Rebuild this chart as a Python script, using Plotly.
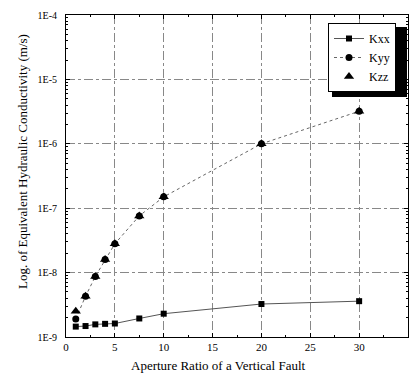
import plotly.graph_objects as go

aperture = [1, 2, 3, 4, 5, 7.5, 10, 20, 30]
kxx = [1.45e-9, 1.48e-9, 1.57e-9, 1.6e-9, 1.62e-9, 1.94e-9, 2.3e-9, 3.25e-9, 3.6e-9]
kyy = [1.9e-9, 4.3e-9, 8.7e-9, 1.6e-8, 2.8e-8, 7.6e-8, 1.5e-7, 1.0e-6, 3.2e-6]
kzz = [2.5e-9, 4.3e-9, 8.7e-9, 1.6e-8, 2.8e-8, 7.6e-8, 1.5e-7, 1.0e-6, 3.2e-6]
y_tickvals = [1e-9, 1e-8, 1e-7, 1e-6, 1e-5, 1e-4]
y_ticktext = ["1E-9", "1E-8", "1E-7", "1E-6", "1E-5", "1E-4"]
x_tickvals = [0, 5, 10, 15, 20, 25, 30]

minor_y = [k * 10.0 ** e for e in range(-9, -4) for k in range(2, 10)]

FONT = "Liberation Serif"
L, R, T, B = 66, 1, 15, 39
W, H = 409, 376
PW, PH = W - L - R, H - T - B


def px(x):
    return (x - L) / PW


def py(y):
    return 1 - (y - T) / PH


fig = go.Figure()
fig.add_trace(go.Scatter(x=aperture, y=kxx, name="Kxx", mode="lines+markers",
                         line=dict(color="#555", width=1),
                         marker=dict(symbol="square", size=6, color="black")))
fig.add_trace(go.Scatter(x=aperture, y=kyy, name="Kyy", mode="lines+markers",
                         line=dict(color="#666", width=1, dash="dot"),
                         marker=dict(symbol="circle", size=7, color="black")))
fig.add_trace(go.Scatter(x=aperture, y=kzz, name="Kzz", mode="markers",
                         marker=dict(symbol="triangle-up", size=9, color="black")))

# legend shadow
fig.add_shape(type="rect", xref="paper", yref="paper",
              x0=px(332), x1=px(407), y0=py(97), y1=py(27),
              fillcolor="black", line=dict(width=0), layer="above")

fig.add_annotation(text="Log. of Equivalent Hydraulic Conductivity (m/s)", textangle=-90,
                   xref="paper", yref="paper", x=px(22), y=py(162), showarrow=False,
                   xanchor="center", yanchor="middle",
                   font=dict(family=FONT, size=13))
fig.add_annotation(text="Aperture Ratio of a Vertical Fault",
                   xref="paper", yref="paper", x=px(218), y=py(366), showarrow=False,
                   xanchor="center", yanchor="middle",
                   font=dict(family=FONT, size=13))

fig.update_layout(
    width=W, height=H,
    margin=dict(l=L, r=R, t=T, b=B, autoexpand=False),
    paper_bgcolor="white", plot_bgcolor="white",
    font=dict(family=FONT, size=11, color="black"),
    showlegend=True,
    legend=dict(x=px(328), y=py(23), xanchor="left", yanchor="top",
                bgcolor="white", bordercolor="black", borderwidth=1,
                font=dict(family=FONT, size=12, color="black"),
                tracegroupgap=0, itemwidth=30),
)
fig.update_xaxes(
    range=[0, 35], tickmode="array", tickvals=x_tickvals,
    ticks="inside", ticklen=4, tickcolor="black", mirror="ticks",
    showline=True, linecolor="black", linewidth=1,
    showgrid=True, gridcolor="#888", griddash="dashdot", gridwidth=1,
    zeroline=False, automargin=False,
    minor=dict(tickmode="linear", tick0=0, dtick=2.5, ticks="inside", ticklen=2, tickcolor="black", showgrid=False),
    tickfont=dict(family=FONT, size=11),
)
fig.update_yaxes(
    type="log", range=[-9, -4], tickmode="array", tickvals=y_tickvals, ticktext=y_ticktext,
    ticks="inside", ticklen=4, tickcolor="black", mirror="ticks",
    showline=True, linecolor="black", linewidth=1,
    showgrid=True, gridcolor="#888", griddash="dashdot", gridwidth=1,
    zeroline=False, automargin=False, ticklabelstandoff=6,
    minor=dict(tickmode="array", tickvals=minor_y, ticks="inside", ticklen=2, tickcolor="black", showgrid=False),
    tickfont=dict(family=FONT, size=10),
)

fig.write_html("out.html", config={"displayModeBar": False},
               post_script="document.body.style.margin='0';document.body.style.overflow='hidden';")
